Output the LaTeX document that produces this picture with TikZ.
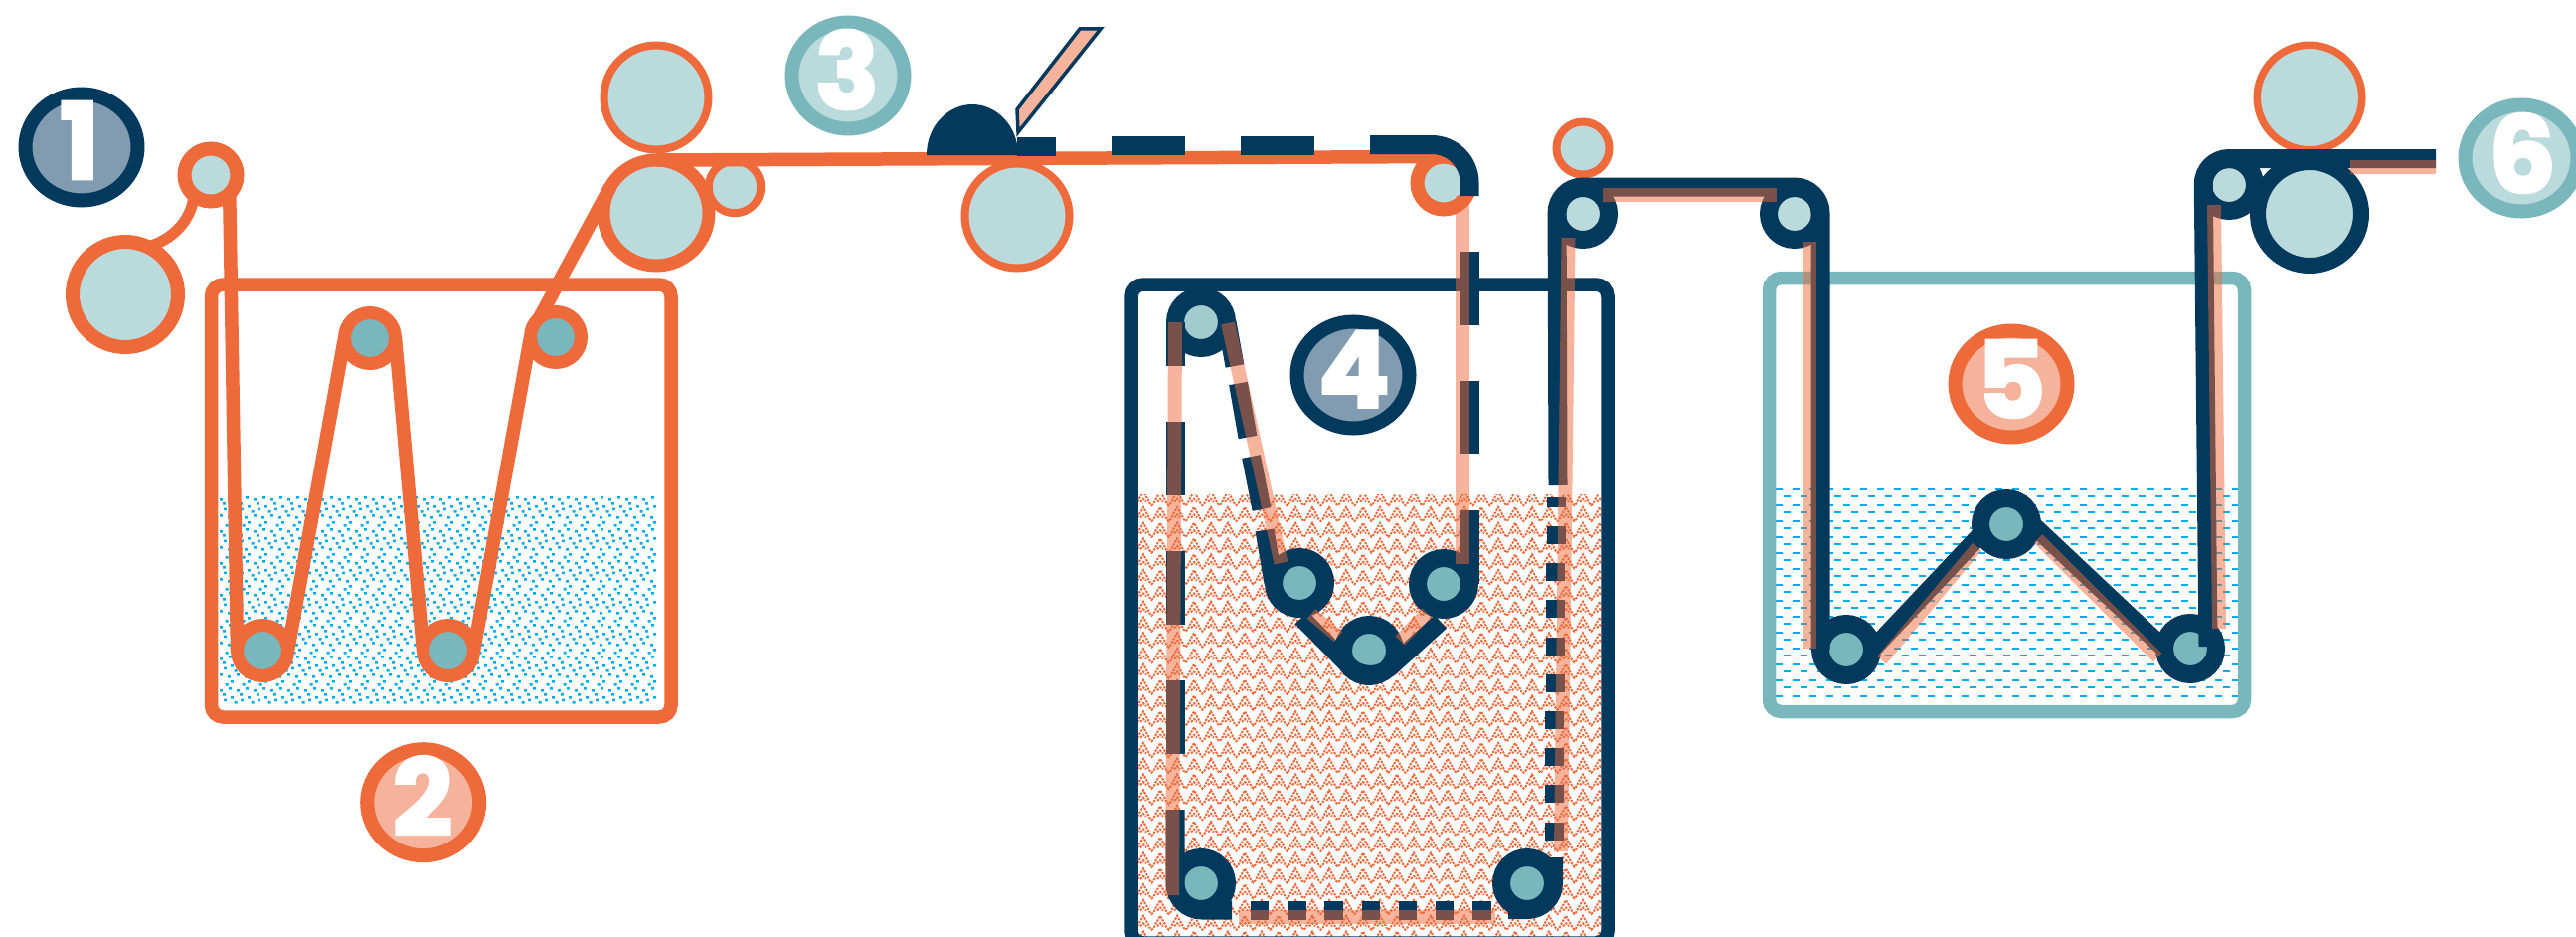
\documentclass[tikz,border=0pt]{standalone}
\usepackage{fontspec}
\usetikzlibrary{shapes.geometric}
\newfontfamily\badgefont{Poppins}[BoldFeatures={FakeBold=3}]
\definecolor{orng}{HTML}{EE6A3A}
\definecolor{navy}{HTML}{03395C}
\definecolor{teal}{HTML}{79B7BC}
\definecolor{pale}{HTML}{BBDADC}
\definecolor{mist}{HTML}{A2CBCE}
\definecolor{slate}{HTML}{819BB0}
\definecolor{peach}{HTML}{F5B39B}
\definecolor{cyanink}{HTML}{00AEEF}
\tikzset{
  ringnode/.style n args={4}{circle,inner sep=0pt,outer sep=0pt,minimum size=#1pt,line width=#2pt,draw=#3,fill=#4},
  badge/.style n args={2}{ellipse,inner sep=0pt,outer sep=0pt,minimum width=113pt,minimum height=107pt,line width=14pt,draw=#1,fill=#2},
  digit/.style={inner sep=0pt,outer sep=0pt,text=white,font=\badgefont\bfseries\fontsize{106}{106}\selectfont},
  tank/.style={rectangle,inner sep=0pt,outer sep=0pt,rounded corners=12pt,line width=13.5pt},
  obelt/.style={draw=orng,line width=13.5pt},
  nbelt/.style={draw=navy,line width=19pt},
  sbelt/.style={draw=orng,draw opacity=0.5,line width=14pt},
}
\begin{document}
\begin{tikzpicture}[x=1pt,y=-1pt]
\useasboundingbox (0,0) rectangle (2591,942);
\clip (0,0) rectangle (2591,942);
% --- liquids
\begin{scope}
\clip (220,497) rectangle (660,707);
\fill[cyanink] foreach \r in {0,...,6} { foreach \c in {0,...,26} {
  foreach \px/\py in {10/2,1/4,4/8,12/11,5/13.5,15.7/16,1/20,9/22,12/27,6.7/30} {
  ({220+\c*17+\px},{497+\r*32+\py}) rectangle ++(2.9,2.5) } } };
\end{scope}
\begin{scope}
\clip (1145,497) rectangle (1610,942);
\draw[orng,line width=2pt,dash pattern=on 2.3pt off 1.2pt] foreach \r in {0,...,29} {
  (1133,{494.2+\r*15.8}) foreach \c in {0,...,28} {
    -- ++(2.3,4) -- ++(2.3,4) -- ++(1.9,4) -- ++(2,2) -- ++(2,-2) -- ++(1.9,-4) -- ++(2.3,-4) -- ++(2.3,-4) } };
\draw[orng,line width=2pt,dash pattern=on 2.3pt off 1.2pt] foreach \r in {0,...,29} { foreach \c in {0,...,28} {
  ({1133+\c*17-3},{494.2+\r*15.8+10.5}) -- ++(3,-3) -- ++(3,3) } };
\end{scope}
\foreach \r in {0,...,26} {
  \pgfmathsetmacro{\yy}{491.5+\r*8+mod(\r,2)*(-0.7)}
  \pgfmathsetmacro{\ph}{mod(\r,2)*9}
  \draw[cyanink,line width=2pt,dash pattern=on 7pt off 10pt,dash phase=\ph pt] (1786,\yy) -- (2251,\yy);
}
% --- tanks
\node[tank,draw=orng,minimum width=462.5pt,minimum height=435pt] (tankA) at (443.75,503.5) {};
\node[tank,draw=navy,minimum width=479pt,minimum height=662pt] (tankB) at (1377.5,617) {};
\node[tank,draw=teal,minimum width=478pt,minimum height=436pt] (tankC) at (2018.5,497.5) {};
% --- first section rollers
\node[ringnode={106}{14}{orng}{pale}] (feed) at (126,296) {};
\node[ringnode={53}{14}{orng}{pale}] (guideA) at (212,176) {};
\node[ringnode={51}{13}{orng}{teal}] (lowA) at (264,654) {};
\node[ringnode={51}{13}{orng}{teal}] (upA) at (372,340) {};
\node[ringnode={51}{13}{orng}{teal}] (lowB) at (451,654) {};
\node[ringnode={51}{13}{orng}{teal}] (upB) at (559,339) {};
\node[ringnode={52.5}{8}{orng}{pale}] (nipS) at (739,188) {};
\node[ringnode={105}{8}{orng}{pale}] (nipT) at (660,98) {};
\node[ringnode={106}{13}{orng}{pale}] (nipB) at (660,214) {};
\node[ringnode={105}{8}{orng}{pale}] (coat) at (1023,217) {};
\node[ringnode={53}{14}{orng}{pale}] (turnA) at (1452,184) {};
\node[ringnode={53}{8}{orng}{pale}] (guideB) at (1592,149) {};
% first section belt
\draw[obelt,line width=11pt] (guideA.-130) .. controls (193,222) and (172,242) .. (feed.65);
\draw[obelt] (guideA.-45) -- (lowA.180);
\draw[obelt] (lowA.0) -- (upA.180);
\draw[obelt] (upA.0) -- (lowB.180);
\draw[obelt] (lowB.0) -- (upB.180);
\draw[obelt] (upB.130) -- (nipB.150);
\draw[obelt] (nipB.90) -- (turnA.90);
% doctor blade
\path[fill=navy] (932,156) .. controls (932,125) and (955,105) .. (978,105) .. controls (1001,105) and (1024,125) .. (1024,156) -- cycle;
\draw[navy,line width=3.5pt,fill=peach,miter limit=4] (1023,110) -- (1086,29) -- (1107,29) -- (1024,133) -- cycle;
% --- second section rollers
\node[ringnode={52}{18}{navy}{mist}] (bTL) at (1208,324) {};
\node[ringnode={52}{18}{navy}{teal}] (bL) at (1307,586) {};
\node[ringnode={52}{18}{navy}{teal}] (bM) at (1377,654) {};
\node[ringnode={52}{18}{navy}{teal}] (bR) at (1452,587) {};
\node[ringnode={52}{18}{navy}{teal}] (bBL) at (1208,888) {};
\node[ringnode={52}{18}{navy}{teal}] (bBR) at (1536,888) {};
\node[ringnode={52}{18}{navy}{pale}] (turnB) at (1592,215) {};
% dashed navy coating over the first run
\draw[nbelt] (1023,147.5) -- (1062,147.5);
\draw[nbelt] (1118,146.7) -- (1192,146.7);
\draw[nbelt] (1248,146) -- (1322,146);
\draw[nbelt,rounded corners=38pt] (1378,145.5) -- (1478,145.5) -- (1478,197);
\draw[nbelt] (1478,253) -- (1478,327);
\draw[nbelt] (1478,383) -- (1478,456);
\draw[nbelt] (1478,513) -- (bR.0);
\draw[nbelt,line width=18pt,rounded corners=30pt] (1309,621) -- (1377,690) -- (1449,625);
\draw[nbelt] (1272,533) -- (bL.180);
\draw[nbelt] (1258.5,459) -- (1269,512);
\draw[nbelt] (1245.5,385.5) -- (1255,439.5);
\draw[nbelt] (bTL.0) -- (1242,368);
\draw[nbelt] (bTL.180) -- (1182,368);
\draw[nbelt] (1182,424) -- (1182,498);
\draw[nbelt] (1182,554) -- (1182,628);
\draw[nbelt] (1182,684) -- (1182,758);
\draw[nbelt,rounded corners=27pt] (1182,814) -- (1182,915) -- (1239,915);
\foreach \k in {0,...,6} { \draw[nbelt] ({1258+\k*37.2},915) -- ({1276.4+\k*37.2},915); }
\draw[nbelt,line width=18pt,rounded corners=27pt] (1517,915) -- (1563,915) -- (1563,862);
\foreach \k in {0,...,8} { \draw[nbelt] ({1565-\k*0.25},{529+\k*37.2}) -- ({1565-\k*0.25},{547+\k*37.2}); }
\draw[nbelt] (1565.3,500) -- (1565.3,510);
% --- third section rollers
\node[ringnode={52}{18}{navy}{pale}] (turnC) at (1805,215) {};
\node[ringnode={52}{18}{navy}{teal}] (cL) at (1857,653) {};
\node[ringnode={52}{18}{navy}{teal}] (cM) at (2018,527) {};
\node[ringnode={52}{18}{navy}{teal}] (cR) at (2203,652) {};
\node[ringnode={52}{18}{navy}{pale}] (turnD) at (2242,186) {};
\node[ringnode={104}{16}{navy}{pale}] (nipD) at (2323,215) {};
\node[ringnode={105.5}{7.5}{orng}{pale}] (nipU) at (2323,98) {};
\draw[nbelt,rounded corners=26pt] (1567,488) -- (1566,188) -- (1831,188) -- (cL.180);
\draw[nbelt,line width=18pt] (cL.0) -- (cM.-160);
\draw[nbelt,line width=18pt] (cM.0) -- (cR.180);
\draw[nbelt,rounded corners=26pt] (2221,650) -- (2216,159.5) -- (2450,159.5);
% --- translucent coating traces
\draw[sbelt] (1471,197) -- (1471,567);
\draw[sbelt] (bTL.180) -- (1179,900);
\draw[sbelt] (1235,325) -- (1288.5,566);
\draw[sbelt,line width=13pt] (1319,617) -- (1346,640);
\draw[sbelt,line width=13pt] (1435,616) -- (1408,644);
\draw[sbelt] (1246,922) -- (1504,922);
\draw[sbelt] (1577.5,239) -- (1570,856);
\draw[sbelt] (1612,196) -- (1787,196);
\draw[sbelt] (1820,243) -- (1820,652);
\draw[sbelt,line width=12pt] (1892.7,663.7) -- (1988.7,549.7);
\draw[sbelt,line width=12pt] (2050,541.5) -- (2170,661);
\draw[sbelt] (2227,206) -- (2232,632);
\draw[sbelt] (2364,168) -- (2450,168);
% --- numbered badges
\node[badge={navy}{slate}] (badgeA) at (82,148) {};
\node[digit] (digitA) at (80,141) {1};
\node[badge={orng}{peach}] (badgeB) at (425.7,806.7) {};
\node[digit] (digitB) at (425,800) {2};
\node[badge={teal}{pale}] (badgeC) at (853,76) {};
\node[digit] (digitC) at (852,70) {3};
\node[badge={navy}{slate}] (badgeD) at (1361,377) {};
\node[digit] (digitD) at (1362,371) {4};
\node[badge={orng}{peach}] (badgeE) at (2023,386) {};
\node[digit] (digitE) at (2023,381) {5};
\node[badge={teal}{pale}] (badgeF) at (2536,159) {};
\node[digit] (digitF) at (2537,154) {6};
\end{tikzpicture}
\end{document}
